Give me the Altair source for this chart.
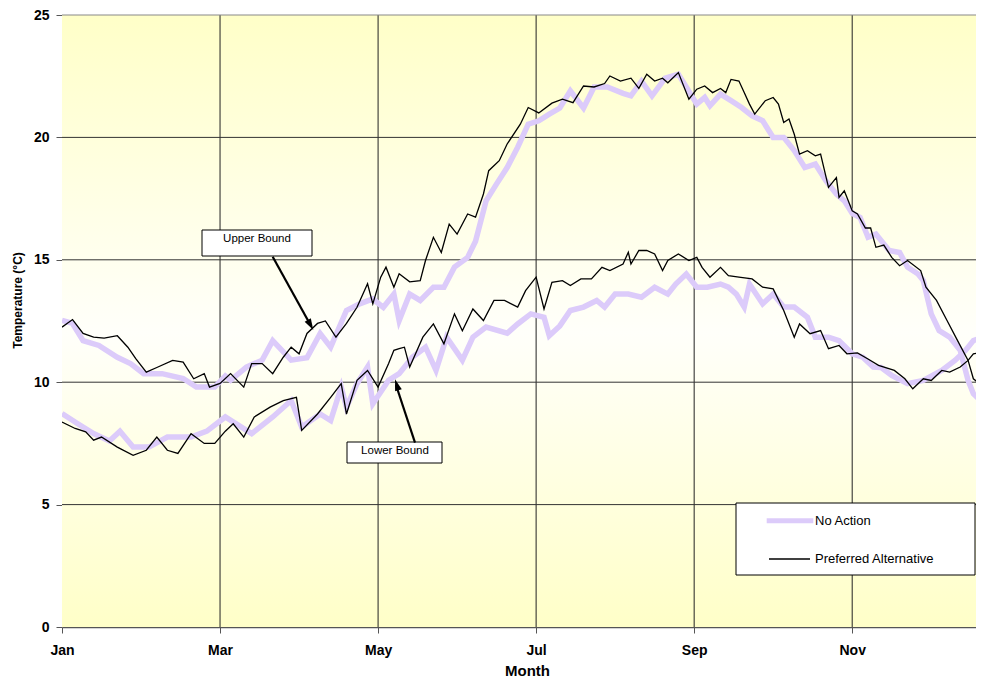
import altair as alt
import pandas as pd

# ---------------- data ----------------
month_days = [0, 60, 120, 180, 240, 300]
month_labels = ["Jan", "Mar", "May", "Jul", "Sep", "Nov"]
temp_ticks = [0, 5, 10, 15, 20, 25]
grid_days = [60, 120, 180, 240, 300]
grid_temps = [5, 10, 15, 20]

pa_up_days = [0, 4, 8, 12, 16, 21, 25, 28, 32, 36, 42, 46, 50, 54, 56, 60, 64, 69, 72, 76,
              80, 84, 87, 90, 93, 97, 100, 104, 108, 112, 116, 118, 121, 123, 126, 128, 132, 136, 138, 141,
              144, 147, 150, 154, 157, 160, 162, 166, 169, 174, 177, 181, 186, 190, 194, 198, 202, 206, 208, 212,
              216, 219, 222, 225, 228, 230, 234, 238, 241, 244, 247, 250, 252, 254, 257, 259, 261, 263, 267, 270,
              272, 274, 276, 278, 280, 283, 286, 288, 291, 294, 295, 297, 300, 302, 305, 307, 309, 312, 315, 318,
              321, 326, 328, 332, 336, 340, 344, 346, 350]
pa_up_vals = [12.25, 12.56, 11.99, 11.84, 11.8, 11.9, 11.43, 10.96, 10.41, 10.6, 10.89, 10.82, 10.14, 10.35, 9.8, 9.95, 10.35, 9.8, 10.76, 10.76,
              10.35, 11.02, 11.43, 11.16, 11.99, 12.4, 12.5, 11.84, 12.4, 13.06, 14.02, 13.2, 14.29, 14.7, 13.88, 14.43, 14.1, 14.15, 14.97, 15.92,
              15.3, 16.46, 16.05, 16.87, 16.74, 17.69, 18.64, 19.05, 19.73, 20.54, 21.22, 21.0, 21.4, 21.56, 21.42, 22.1, 22.06, 22.2, 22.51, 22.3,
              22.42, 22.0, 22.58, 22.3, 22.42, 22.23, 22.65, 21.56, 21.97, 22.1, 21.83, 22.0, 21.83, 22.37, 22.3, 21.83, 21.36, 20.95, 21.5, 21.63,
              21.36, 20.61, 20.75, 20.13, 19.32, 19.46, 19.25, 19.32, 17.96, 18.36, 17.55, 17.82, 17.0, 16.87, 16.3, 16.3, 15.51, 15.6, 15.1, 14.76,
              14.97, 14.56, 13.88, 13.34, 12.52, 11.7, 10.89, 10.14, 9.8]

na_up_days = [0, 4, 8, 14, 21, 26, 31, 38, 46, 51, 58, 62, 64, 70, 76, 80, 87, 93, 98, 102,
              108, 113, 118, 122, 126, 128, 132, 136, 141, 145, 149, 154, 157, 161, 165, 169, 173, 177, 181, 185,
              189, 193, 198, 202, 207, 213, 216, 220, 224, 229, 234, 237, 241, 244, 246, 250, 254, 258, 262, 266,
              270, 274, 278, 282, 286, 290, 294, 297, 300, 303, 306, 309, 314, 318, 321, 325, 327, 330, 333, 337,
              341, 344, 346, 350]
na_up_vals = [12.52, 12.4, 11.7, 11.5, 11.02, 10.76, 10.35, 10.35, 10.15, 9.8, 9.8, 10.25, 10.08, 10.62, 10.9, 11.7, 10.9, 11.0, 11.99, 11.43,
              12.93, 13.2, 13.4, 13.06, 13.6, 12.52, 13.6, 13.34, 13.88, 13.88, 14.7, 15.1, 15.76, 17.41, 18.1, 18.77, 19.6, 20.54, 20.68, 20.95,
              21.2, 21.9, 21.2, 22.06, 22.06, 21.8, 21.7, 22.3, 21.7, 22.42, 22.58, 22.06, 21.36, 21.63, 21.29, 21.77, 21.5, 21.22, 20.88, 20.68,
              20.0, 20.0, 19.46, 18.77, 18.91, 18.23, 17.68, 17.41, 16.9, 16.73, 15.92, 16.05, 15.38, 15.3, 14.7, 14.42, 14.15, 12.79, 12.11, 11.84,
              11.3, 10.07, 9.53, 9.12]

pa_lo_days = [0, 5, 9, 12, 15, 21, 27, 32, 36, 40, 44, 49, 54, 58, 62, 65, 69, 73, 79, 84,
              89, 91, 97, 102, 106, 108, 112, 116, 120, 124, 126, 128, 130, 132, 137, 141, 145, 149, 152, 156,
              160, 164, 168, 173, 176, 180, 183, 186, 190, 193, 197, 201, 205, 208, 213, 215, 216, 219, 222, 225,
              228, 230, 234, 238, 241, 243, 246, 250, 253, 257, 262, 266, 270, 274, 278, 280, 284, 288, 291, 295,
              298, 302, 306, 310, 316, 320, 323, 327, 330, 334, 337, 341, 344, 346, 350]
pa_lo_vals = [8.37, 8.11, 7.97, 7.63, 7.76, 7.35, 7.01, 7.22, 7.76, 7.22, 7.09, 7.9, 7.5, 7.5, 8.0, 8.3, 7.76, 8.58, 8.98, 9.25,
              9.38, 8.03, 8.7, 9.38, 9.94, 8.7, 10.08, 10.48, 9.8, 10.76, 11.3, 11.37, 11.43, 10.62, 11.84, 12.38, 11.57, 12.79, 12.1, 12.99,
              12.52, 13.34, 13.34, 13.07, 13.74, 14.29, 12.99, 14.08, 14.15, 13.95, 14.22, 14.22, 14.69, 14.56, 14.83, 15.31, 14.83, 15.38, 15.38, 15.24,
              14.56, 14.97, 15.24, 14.97, 15.1, 14.69, 14.29, 14.69, 14.35, 14.29, 14.22, 13.88, 13.81, 12.93, 11.84, 12.38, 11.98, 12.11, 11.37, 11.5,
              11.16, 11.2, 10.95, 10.69, 10.48, 10.14, 9.73, 10.14, 10.07, 10.48, 10.41, 10.62, 10.89, 11.16, 11.23]

na_lo_days = [0, 6, 12, 18, 22, 27, 33, 40, 49, 55, 62, 72, 80, 87, 91, 98, 102, 106, 108, 112,
              116, 118, 124, 128, 133, 138, 142, 146, 152, 156, 161, 169, 173, 178, 183, 185, 189, 193, 198, 203,
              206, 210, 215, 220, 225, 230, 233, 237, 241, 245, 250, 253, 256, 259, 261, 266, 270, 274, 278, 283,
              286, 291, 295, 300, 304, 308, 311, 315, 321, 327, 334, 339, 343, 346, 350]
na_lo_vals = [8.72, 8.3, 7.9, 7.6, 8.0, 7.35, 7.35, 7.76, 7.76, 8.0, 8.58, 7.9, 8.58, 9.25, 8.17, 8.7, 8.43, 9.8, 8.98, 9.94,
              10.62, 9.12, 10.08, 10.35, 11.02, 11.43, 10.48, 11.84, 10.9, 11.84, 12.25, 12.0, 12.38, 12.79, 12.65, 11.9, 12.3, 12.93, 13.07, 13.34,
              13.07, 13.6, 13.6, 13.47, 13.88, 13.6, 14.01, 14.42, 13.88, 13.88, 14.01, 13.88, 13.6, 13.07, 14.01, 13.2, 13.6, 13.07, 13.07, 12.65,
              11.84, 11.84, 11.7, 11.16, 11.02, 10.62, 10.6, 10.28, 9.94, 10.07, 10.48, 10.89, 11.3, 11.7, 11.84]

# ---------------- build tables ----------------
def series(days, vals, name, scenario):
    return pd.DataFrame({"day": days, "temp": vals, "series": name, "scenario": scenario})

na_df = pd.concat([series(na_up_days, na_up_vals, "na_up", "No Action"),
                   series(na_lo_days, na_lo_vals, "na_lo", "No Action")])
pa_df = pd.concat([series(pa_up_days, pa_up_vals, "pa_up", "Preferred Alternative"),
                   series(pa_lo_days, pa_lo_vals, "pa_lo", "Preferred Alternative")])

W, H = 914, 612
TOP = 7
FONT = "Liberation Sans"
LAV = "#DCCBFA"

label_expr = "[" + ",".join(f"'{m}'" for m in month_labels) + "][round(datum.value / 60)]"

x_scale = alt.Scale(domain=[0, 347], nice=False, zero=False)
y_scale = alt.Scale(domain=[0, 25], nice=False)

x_axis = alt.Axis(values=month_days, labelExpr=label_expr, title="Month", grid=False,
                  labelFont=FONT, labelFontSize=14, labelFontWeight="bold", labelColor="black",
                  titleFont=FONT, titleFontSize=15, titleFontWeight="bold", titleColor="black",
                  titleX=465,
                  tickSize=6, tickColor="#555", domainColor="#555", domainWidth=1.5,
                  labelPadding=10, titlePadding=6, labelFlush=False)
y_axis = alt.Axis(values=temp_ticks, title="Temperature (°C)", grid=False,
                  labelFont=FONT, labelFontSize=14, labelFontWeight="bold", labelColor="black",
                  titleFont=FONT, titleFontSize=12, titleFontWeight="bold", titleColor="black",
                  titleY=300 - 8 - TOP,
                  tickSize=6, tickColor="#555", domainColor="#777",
                  labelPadding=7, titlePadding=9)

x_enc = alt.X("day:Q", scale=x_scale, axis=x_axis)
y_enc = alt.Y("temp:Q", scale=y_scale, axis=y_axis)

one = alt.Data(values=[{}])

background = alt.Chart(one).mark_rect(
    color=alt.Gradient(gradient="linear", x1=0, x2=0, y1=0, y2=1,
                       stops=[alt.GradientStop(color="#FFFFC8", offset=0),
                              alt.GradientStop(color="#FFFFFA", offset=0.52),
                              alt.GradientStop(color="#FFFFC8", offset=1)])
).encode(x=alt.value(0), x2=alt.value(W), y=alt.value(0), y2=alt.value(H))

vgrid = alt.Chart(pd.DataFrame({"day": grid_days})).mark_rule(color="#222", strokeWidth=1).encode(x=x_enc)
hgrid = alt.Chart(pd.DataFrame({"temp": grid_temps})).mark_rule(color="#333", strokeWidth=1).encode(y=y_enc)
topline = alt.Chart(pd.DataFrame({"temp": [25]})).mark_rule(color="#888", strokeWidth=1).encode(y=y_enc)

na_lines = alt.Chart(na_df).mark_line(color=LAV, strokeWidth=5.5, clip=True, strokeJoin="miter").encode(
    x=x_enc, y=y_enc, detail="series:N", order="day:Q")
pa_lines = alt.Chart(pa_df).mark_line(color="black", strokeWidth=1.3, clip=True).encode(
    x=x_enc, y=y_enc, detail="series:N", order="day:Q")

# --- annotation boxes and arrows (pixel positions inside the plot) ---
def box(x1, x2, y1, y2):
    return alt.Chart(one).mark_rect(fill="white", stroke="black", strokeWidth=1).encode(
        x=alt.value(x1), x2=alt.value(x2), y=alt.value(y1), y2=alt.value(y2))

def label(x, y, s, size, align="center"):
    return alt.Chart(one).mark_text(font=FONT, fontSize=size, color="black", align=align,
                                    baseline="middle").encode(
        x=alt.value(x), y=alt.value(y), text=alt.value(s))

def seg(x1, y1, x2, y2, color="black", width=2):
    return alt.Chart(one).mark_rule(color=color, strokeWidth=width).encode(
        x=alt.value(x1), y=alt.value(y1), x2=alt.value(x2), y2=alt.value(y2))

ARROW = "M0,0L-0.7,2.3L0.7,2.3Z"

def head(x, y, ang):
    return alt.Chart(one).mark_point(shape=ARROW, filled=True, color="black", opacity=1,
                                     size=100, angle=ang).encode(x=alt.value(x), y=alt.value(y))

d = 8 + TOP  # image y -> plot y
upper = [box(140, 250, 230 - d, 256 - d), label(195, 239 - d, "Upper Bound", 11.5),
         seg(210.7, 256.7 - d, 248.5, 325 - d, width=2.2), head(251.3, 330 - d, 151)]
lower = [box(285, 380, 442 - d, 463 - d), label(333, 451 - d, "Lower Bound", 11.5),
         seg(353, 442.7 - d, 334, 385 - d, width=2.2), head(333, 379.3 - d, 342.5)]

legend = [box(674, W - 1, 503 - d, 575 - d),
          seg(704.7, 520.7 - d, 751.3, 520.7 - d, color=LAV, width=5),
          label(753, 521 - d, "No Action", 13, align="left"),
          seg(707, 559 - d, 748, 559 - d, color="black", width=1.3),
          label(753, 558.5 - d, "Preferred Alternative", 13, align="left")]

chart = alt.layer(background, vgrid, hgrid, topline, na_lines, pa_lines,
                  *upper, *lower, *legend).properties(
    width=W, height=H,
    autosize=alt.AutoSizeParams(type="none"),
    padding={"left": 54, "top": TOP, "right": 0, "bottom": 52},
    background="white",
).configure_view(stroke=None)

chart.save("out.html", embed_options={"renderer": "svg", "actions": False})
